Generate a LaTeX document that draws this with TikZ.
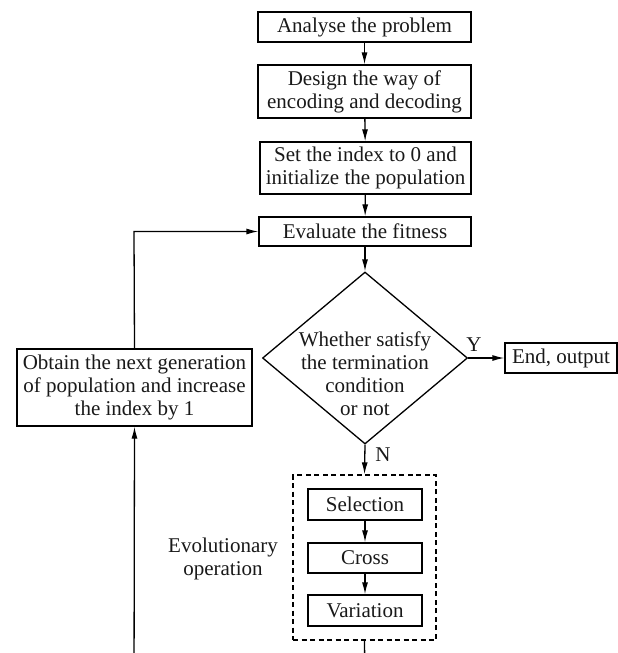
\documentclass[tikz,border=0pt]{standalone}
\usepackage{fontspec}
\setmainfont{Liberation Serif}
\usetikzlibrary{shapes.geometric,arrows.meta}
\begin{document}
\begin{tikzpicture}[x=1pt,y=-1pt,
  every node/.style={font=\fontsize{21}{23}\selectfont, text=black!90},
  box/.style={draw, line width=1.3pt, inner sep=0pt, align=center},
  arr/.style={line width=1.3pt, -{Latex[length=12pt,width=6pt]}},
  ln/.style={line width=1.3pt}]
\useasboundingbox (0,0) rectangle (618,653);
\node[box, minimum width=213, minimum height=30] (a1) at (364.5,27) {Analyse the problem};
\node[box, minimum width=213, minimum height=53] (a2) at (364.5,91.5) {Design the way of\\encoding and decoding};
\node[box, minimum width=211, minimum height=52] (a3) at (365.5,168) {Set the index to 0 and\\initialize the population};
\node[box, minimum width=212, minimum height=29] (a4) at (365,231.5) {Evaluate the fitness};
\node[diamond, draw, line width=1.3pt, inner sep=0pt, minimum width=205, minimum height=172] (d) at (365,358) {};
\node[align=center, inner sep=0pt] (dt) at (365,374) {Whether satisfy\\the termination\\condition\\or not};
\node[box, minimum width=112, minimum height=30] (e) at (561,358) {End, output};
\node[box, minimum width=235, minimum height=77] (ob) at (134.5,387.5) {Obtain the next generation\\of population and increase\\the index by 1};
\node[draw, line width=1.3pt, dash pattern=on 5pt off 3.5pt, minimum width=143, minimum height=165, inner sep=0pt] (ev) at (364.5,557.5) {};
\node[box, minimum width=114, minimum height=31] (s) at (365,504.5) {Selection};
\node[box, minimum width=114, minimum height=30] (c) at (365,558) {Cross};
\node[box, minimum width=114, minimum height=31] (v) at (365,610.5) {Variation};
\node[align=center, inner sep=0pt] (evl) at (223,559) {Evolutionary\\operation};
\node[inner sep=0pt] (yl) at (474,345) {Y};
\node[inner sep=0pt] (nl) at (383,455) {N};
\coordinate (c1) at (365,690);
\coordinate (c2) at (134,690);
\coordinate (c3) at (134,231.5);
\draw[arr] (a1) -- (a2);
\draw[arr] (a2) -- (a3);
\draw[arr] (a3) -- (a4);
\draw[arr] (a4) -- (d.north);
\draw[arr] (d.east) -- (e.west);
\draw[arr] (d.south) -- (ev.north);
\draw[arr] (s) -- (c);
\draw[arr] (c) -- (v);
\draw[arr] (ob.north) -- (c3) -- (a4.west);
\begin{scope}
\clip (0,0) rectangle (618,653);
\draw[arr] (ev.south) -- (c1) -- (c2) -- (ob.south);
\end{scope}
\end{tikzpicture}
\end{document}
